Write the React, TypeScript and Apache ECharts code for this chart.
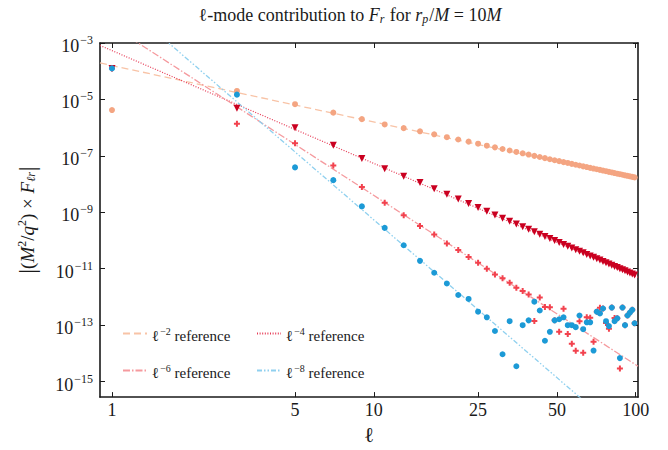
import React, { useEffect, useRef } from 'react';
import * as echarts from 'echarts';

const ELL = [1, 3, 5, 7, 9, 11, 13, 15, 17, 19, 21, 23, 25, 27, 29, 31, 33, 35, 37, 39, 41, 43, 45, 47, 49, 51, 53, 55, 57, 59, 61, 63, 65, 67, 69, 71, 73, 75, 77, 79, 81, 83, 85, 87, 89, 91, 93, 95, 97, 99];

const L2_POINTS = [4.2e-6, 2.0e-5, 6.8e-6, 3.4e-6, 2.0e-6, 1.3e-6, 9.6e-7, 7.4e-7, 5.8e-7, 4.6e-7, 3.8e-7, 3.2e-7, 2.7e-7, 2.3e-7, 2.0e-7, 1.75e-7, 1.55e-7, 1.38e-7, 1.23e-7, 1.11e-7, 1.0e-7, 9.1e-8, 8.3e-8, 7.6e-8, 7.0e-8, 6.5e-8, 6.0e-8, 5.6e-8, 5.2e-8, 4.85e-8, 4.55e-8, 4.25e-8, 4.0e-8, 3.76e-8, 3.55e-8, 3.36e-8, 3.18e-8, 3.01e-8, 2.86e-8, 2.71e-8, 2.58e-8, 2.46e-8, 2.34e-8, 2.24e-8, 2.14e-8, 2.05e-8, 1.96e-8, 1.88e-8, 1.8e-8, 1.73e-8];

const L4_POINTS = [1.26e-4, 4.9e-6, 1.0e-6, 2.4e-7, 8.0e-8, 3.5e-8, 1.9e-8, 1.14e-8, 6.9e-9, 4.4e-9, 2.96e-9, 2.05e-9, 1.47e-9, 1.08e-9, 8.1e-10, 6.2e-10, 4.85e-10, 3.83e-10, 3.07e-10, 2.49e-10, 2.03e-10, 1.68e-10, 1.4e-10, 1.18e-10, 9.97e-11, 8.5e-11, 7.29e-11, 6.28e-11, 5.45e-11, 4.75e-11, 4.15e-11, 3.65e-11, 3.22e-11, 2.85e-11, 2.54e-11, 2.26e-11, 2.02e-11, 1.82e-11, 1.64e-11, 1.48e-11, 1.34e-11, 1.21e-11, 1.1e-11, 1.0e-11, 9.2e-12, 8.4e-12, 7.7e-12, 7.06e-12, 6.5e-12, 5.99e-12];

const L6_POINTS = [1.26e-4, 1.38e-6, 2.8e-7, 4.6e-8, 7.9e-9, 2.2e-9, 7.9e-10, 3.3e-10, 1.62e-10, 7.9e-11, 4.6e-11, 2.6e-11, 1.62e-11, 1.0e-11, 6.2e-12, 4.6e-12, 3.2e-12, 2.1e-12, 1.62e-12, 1.23e-12, 1.41e-13, 9.5e-13, 4.4e-13, 4.3e-13, 1.48e-13, 5.8e-14, 3.8e-13, 4.9e-14, 2.2e-14, 1.23e-14, 1.38e-13, 1.05e-14, 1.9e-13, 1.82e-13, 2.6e-14, 3.0e-13, 4.1e-13, 3.9e-13, 1.2e-13, 7.4e-14, 4.2e-13, 1.78e-13, 1.74e-13, 2.9e-15, 4.2e-13, 1.0e-13, 2.2e-13, 2.8e-13, 3.5e-13, 1.17e-13];

const L8_POINTS = [1.26e-4, 1.48e-5, 3.9e-8, 1.38e-8, 1.62e-9, 2.8e-10, 6.8e-11, 1.9e-11, 7.2e-12, 3.0e-12, 1.17e-12, 8.5e-13, 3.0e-13, 1.9e-13, 6.2e-14, 9.3e-15, 1.38e-13, 3.5e-15, 1.0e-13, 1.48e-13, 6.8e-13, 3.3e-13, 2.8e-14, 5.8e-14, 1.48e-13, 1.62e-13, 1.9e-13, 1.0e-13, 1.0e-13, 8.5e-14, 2.2e-13, 7.2e-14, 1.26e-13, 1.26e-13, 1.26e-14, 3.0e-13, 2.6e-13, 3.9e-13, 1.38e-13, 9.3e-14, 4.2e-13, 1.38e-13, 1.74e-13, 6.8e-15, 4.2e-13, 1.0e-13, 2.2e-13, 2.8e-13, 3.5e-13, 1.17e-13];

const REF_ELL = [0.9, 102];
const REF_L2 = [1.96e-4, 1.52e-8];
const REF_L4 = [8.2e-4, 5.0e-12];
const REF_L6 = [7.5e-3, 3.5e-15];
const REF_L8 = [0.125, 4.6e-18];

const X_TICKS = [1, 5, 10, 25, 50, 100];
const Y_TICKS = [1e-15, 1e-13, 1e-11, 1e-9, 1e-7, 1e-5, 1e-3];

const REF_NAMES = ['l2ref', 'l4ref', 'l6ref', 'l8ref'];
const REF_EXP = ['−2', '−4', '−6', '−8'];

const FONT = 'Liberation Serif';
const INK = '#1a1a1a';

export default function App() {
  const ref = useRef<HTMLDivElement>(null);
  useEffect(() => {
    if (!ref.current) return;
    const chart = echarts.init(ref.current, undefined, { renderer: 'svg' });

    const refLine = (name: string, ys: number[], color: string, type: any, width = 1.2) => ({
      type: 'line',
      name,
      data: REF_ELL.map((x, i) => [x, ys[i]]),
      symbol: 'none',
      showSymbol: false,
      lineStyle: { color, width, type },
      itemStyle: { color: 'rgba(0,0,0,0)' },
      clip: true,
      silent: true,
      z: 1,
    });

    const pts = (name: string, ys: number[], color: string, symbol: string, size: number, rotate = 0) => ({
      type: 'scatter',
      name,
      data: ELL.map((x, i) => [x, ys[i]]),
      symbol,
      symbolSize: size,
      symbolRotate: rotate,
      itemStyle: { color, opacity: 1 },
      clip: true,
      silent: true,
      z: 2,
    });

    const legendFmt = (name: string) => {
      const i = REF_NAMES.indexOf(name);
      return `{l|ℓ}{s|${REF_EXP[i]}}{n| reference}`;
    };
    const legendRich = {
      l: { fontFamily: FONT, fontSize: 15, color: INK, lineHeight: 16, padding: [4, 0, 0, 0] },
      s: { fontFamily: FONT, fontSize: 10, color: INK, lineHeight: 16, padding: [0, 0, 4, 1] },
      n: { fontFamily: FONT, fontSize: 15, color: INK, lineHeight: 16, padding: [4, 0, 0, 0] },
    };
    const legendBase = {
      orient: 'vertical',
      itemWidth: 24,
      itemHeight: 12,
      itemGap: 18,
      selectedMode: false,
      formatter: legendFmt,
      itemStyle: { opacity: 0 },
      textStyle: { rich: legendRich },
    };

    const tickStyle = { color: INK, width: 1 };
    const axisLineStyle = { color: INK, width: 1.6 };

    const xBase = {
      type: 'log',
      logBase: 10,
      min: 0.9,
      max: 102,
      splitLine: { show: false },
      minorTick: { show: false },
      axisLine: { show: true, lineStyle: axisLineStyle },
      axisTick: { show: true, inside: true, length: 5, customValues: X_TICKS, lineStyle: tickStyle },
    };
    const yBase = {
      type: 'log',
      logBase: 10,
      min: 2.82e-16,
      max: 1e-3,
      splitLine: { show: false },
      minorTick: { show: false },
      axisLine: { show: true, lineStyle: axisLineStyle },
      axisTick: { show: true, inside: true, length: 5, customValues: Y_TICKS, lineStyle: tickStyle },
    };

    chart.setOption({
      animation: false,
      backgroundColor: '#ffffff',
      grid: { left: 100, right: 30, top: 43, bottom: 45, containLabel: false },
      graphic: [
        {
          type: 'text',
          x: 350,
          y: 15,
          silent: true,
          style: {
            text: '{n|ℓ-mode contribution to }{i|F}{sub|r}{n| for }{i|r}{sub|p}{n|/}{i|M}{n| = 10}{i|M}',
            align: 'center',
            verticalAlign: 'middle',
            rich: {
              n: { fontFamily: FONT, fontSize: 18, fill: INK, lineHeight: 22 },
              i: { fontFamily: FONT, fontSize: 18, fontStyle: 'italic', fill: INK, lineHeight: 22 },
              sub: { fontFamily: FONT, fontSize: 12, fontStyle: 'italic', fill: INK, lineHeight: 22, padding: [8, 1, 0, 0] },
            },
          },
        },
      ],
      legend: [
        { ...legendBase, left: 117, top: 319, data: [REF_NAMES[0], REF_NAMES[2]] },
        { ...legendBase, left: 251, top: 319, data: [REF_NAMES[1], REF_NAMES[3]] },
      ],
      xAxis: [
        {
          ...xBase,
          position: 'bottom',
          name: 'ℓ',
          nameLocation: 'middle',
          nameGap: 26,
          nameTextStyle: { fontFamily: FONT, fontSize: 21, color: INK },
          axisLabel: {
            customValues: X_TICKS,
            formatter: (v: number) => String(Math.round(v)),
            fontFamily: FONT,
            fontSize: 18,
            color: INK,
            margin: 4,
          },
        },
        { ...xBase, position: 'top', axisLabel: { show: false } },
      ],
      yAxis: [
        {
          ...yBase,
          position: 'left',
          name: '{bar||}{n|(}{i|M}{sup|2}{n|/}{i|q}{sup|2}{n|) × }{i|F}{sub|ℓr}{bar||}',
          nameLocation: 'middle',
          nameGap: 60,
          nameRotate: 90,
          nameTextStyle: {
            rich: {
              bar: { fontFamily: FONT, fontSize: 24, color: INK, lineHeight: 26 },
              n: { fontFamily: FONT, fontSize: 19, color: INK, lineHeight: 26 },
              i: { fontFamily: FONT, fontSize: 19, fontStyle: 'italic', color: INK, lineHeight: 26 },
              sup: { fontFamily: FONT, fontSize: 12, color: INK, lineHeight: 26, padding: [0, 0, 10, 0] },
              sub: { fontFamily: FONT, fontSize: 12, fontStyle: 'italic', color: INK, lineHeight: 26, padding: [8, 1, 0, 0] },
            },
          },
          axisLabel: {
            customValues: Y_TICKS,
            formatter: (v: number) => `{b|10}{s|−${Math.round(-Math.log10(v))}}`,
            margin: 7,
            rich: {
              b: { fontFamily: FONT, fontSize: 18, color: INK, lineHeight: 18, padding: [6, 0, 0, 0] },
              s: { fontFamily: FONT, fontSize: 12, color: INK, lineHeight: 18, padding: [0, 0, 6, 1] },
            },
          },
        },
        { ...yBase, position: 'right', axisLabel: { show: false } },
      ],
      series: [
        refLine(REF_NAMES[0], REF_L2, '#f8c3a6', [7, 4], 1.3),
        refLine(REF_NAMES[1], REF_L4, '#e63a55', [1, 1.6], 1.2),
        refLine(REF_NAMES[2], REF_L6, '#f59a9e', [7, 2, 1.5, 2], 1.3),
        refLine(REF_NAMES[3], REF_L8, '#8fd0ef', [5, 2, 1.5, 2, 1.5, 2], 1.3),
        pts('l2pts', L2_POINTS, '#f4a582', 'circle', 6),
        pts('l4pts', L4_POINTS, '#ca0020', 'triangle', 7, 180),
        pts('l6pts', L6_POINTS, '#f2424e', 'path://M2,0H4V2H6V4H4V6H2V4H0V2H2Z', 6),
        pts('l8pts', L8_POINTS, '#1c9ad6', 'circle', 6),
      ],
    });

    return () => chart.dispose();
  }, []);

  return <div ref={ref} style={{ position: 'absolute', left: 0, top: 0, width: 668, height: 450 }} />;
}
